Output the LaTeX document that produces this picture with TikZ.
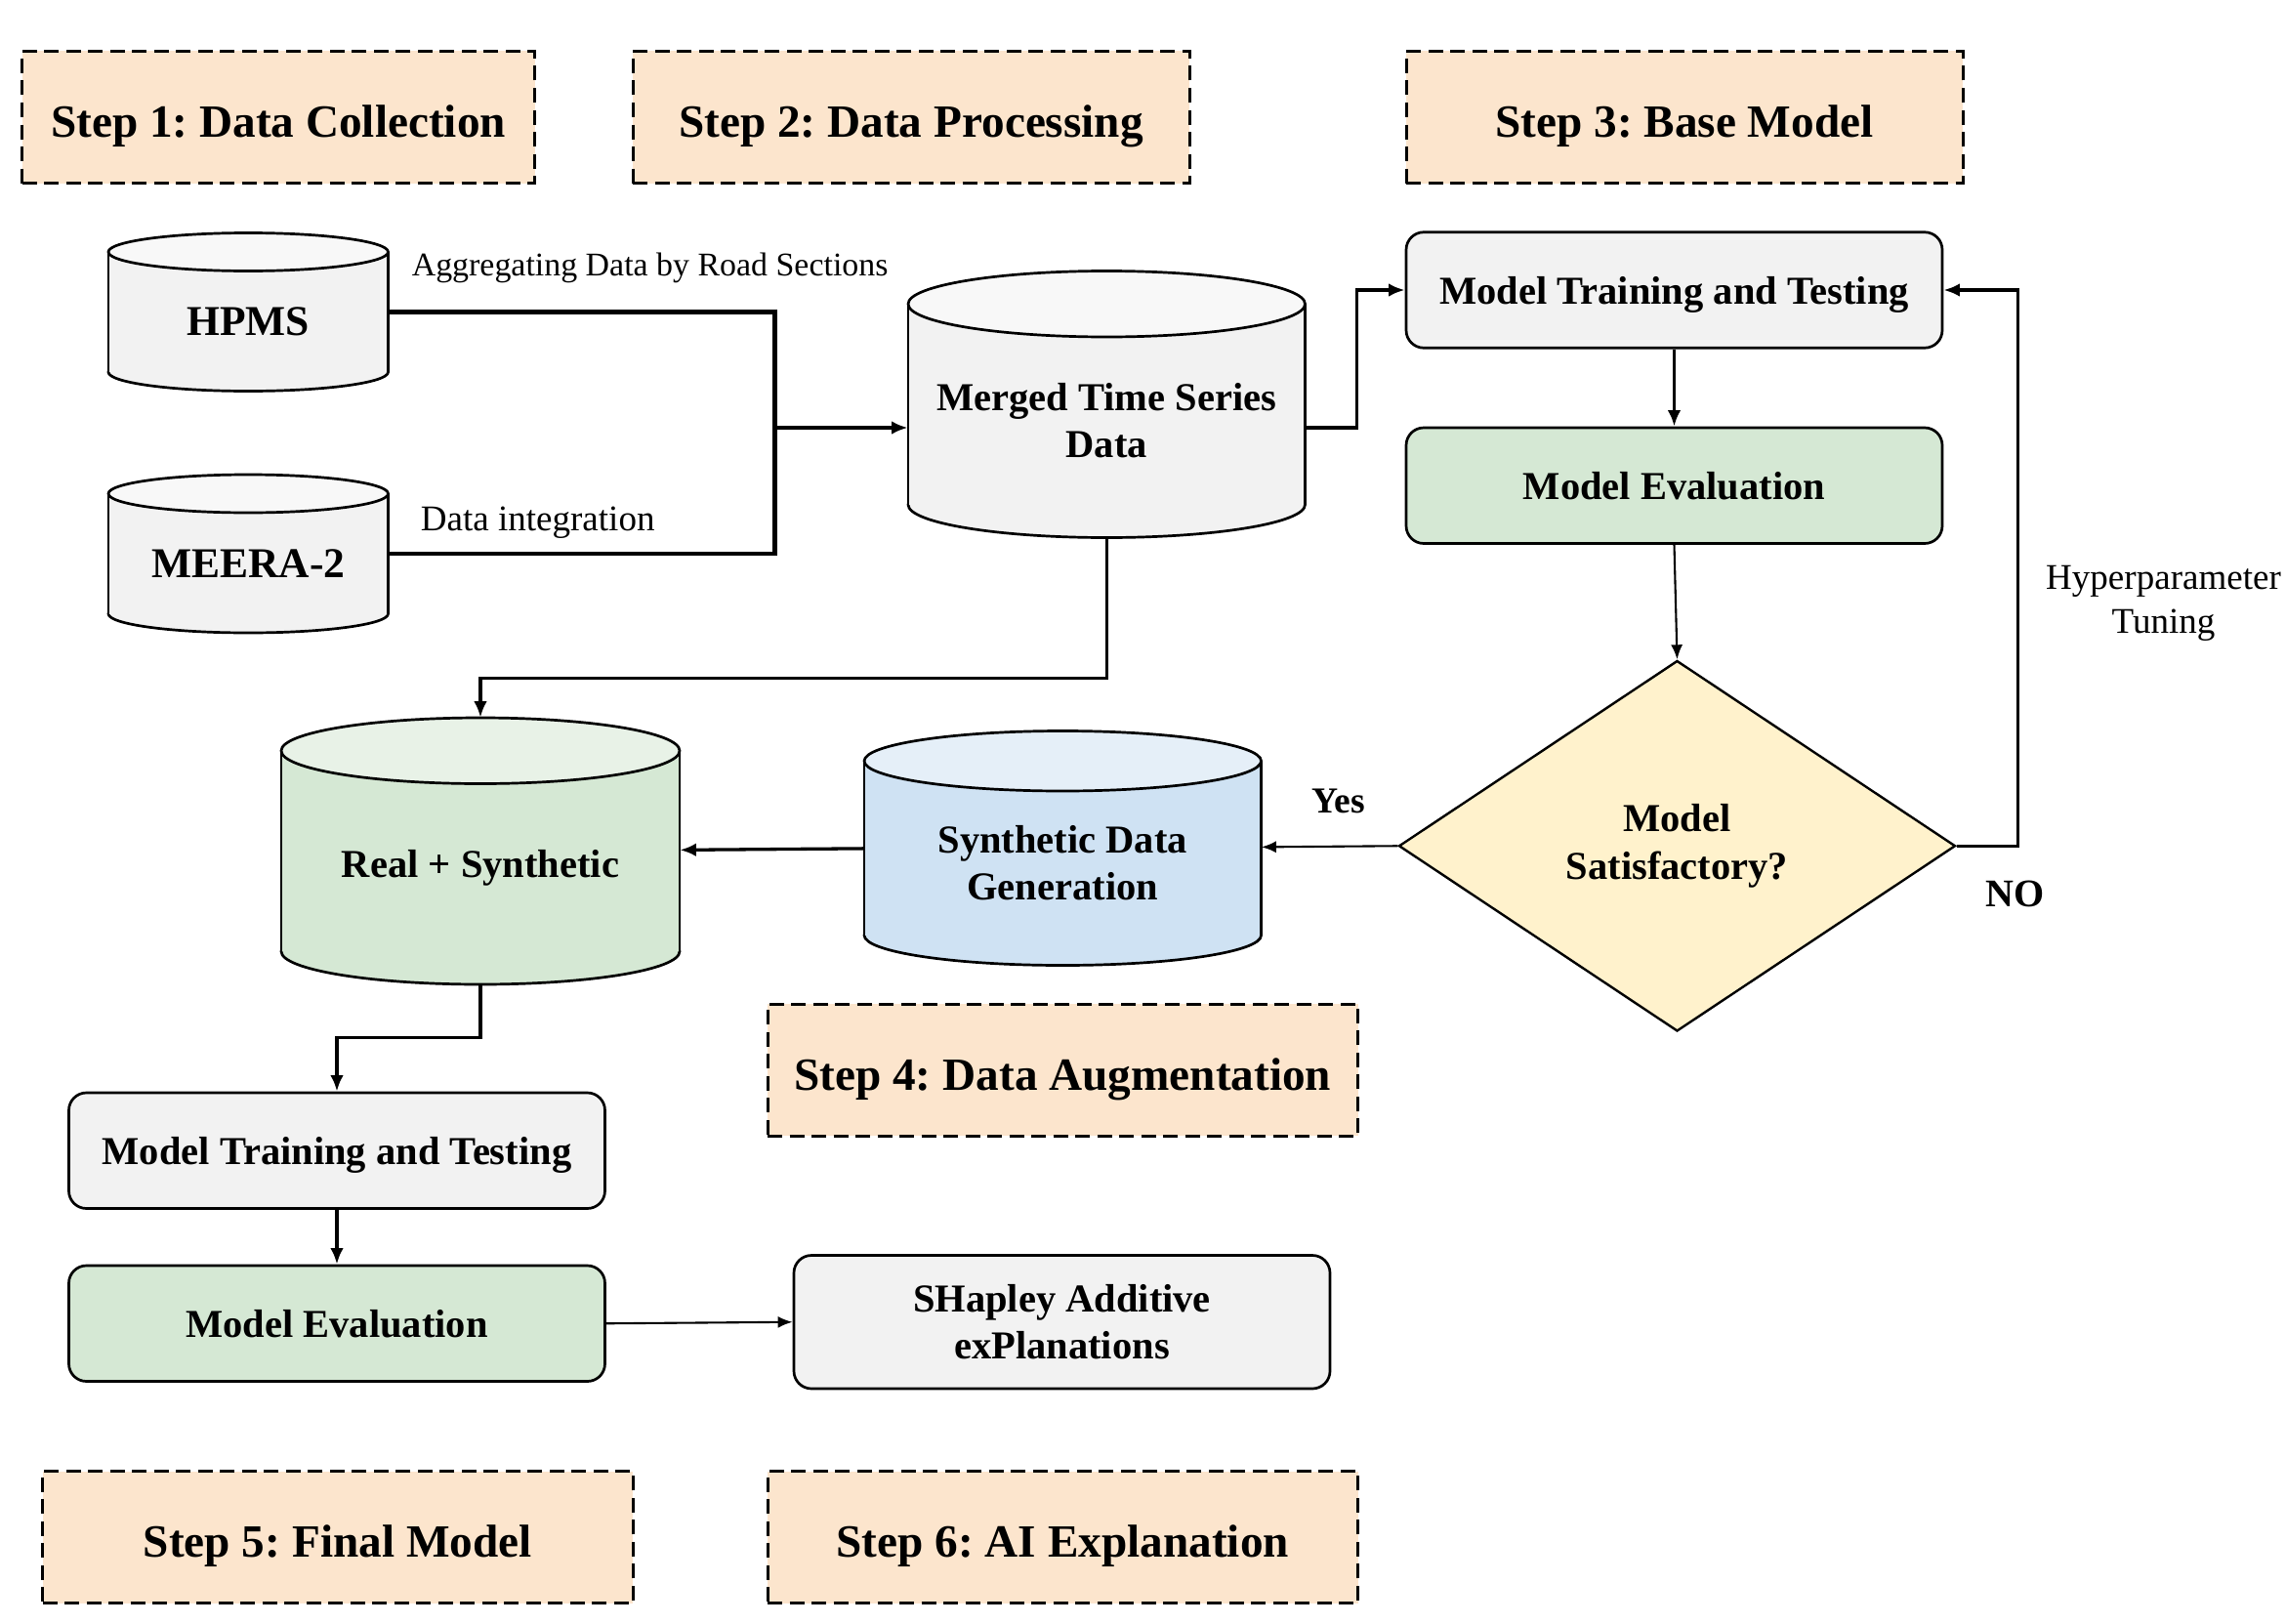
\documentclass[tikz,border=0pt]{standalone}
\usepackage{fontspec}
\setmainfont{Liberation Serif}
\frenchspacing
\usetikzlibrary{shapes.geometric,arrows.meta}

\definecolor{peach}{HTML}{FCE5CD}
\definecolor{cylgrey}{HTML}{F2F2F2}
\definecolor{evalgreen}{HTML}{D5E8D4}
\definecolor{synblue}{HTML}{CFE2F3}
\definecolor{decyellow}{HTML}{FFF2CC}

\begin{document}
\begin{tikzpicture}[x=1pt,y=-1pt,
  stepbox/.style={draw, dash pattern=on 10pt off 5pt, line width=2pt, fill=peach,
    minimum height=90pt, inner sep=0pt, text height=27pt, text depth=0pt,
    font=\fontsize{31.5}{36}\selectfont\bfseries},
  dbtext/.style={inner sep=0pt, align=center, font=\fontsize{27}{32}\selectfont\bfseries},
  box/.style={draw, rounded corners=12pt, line width=1.8pt, minimum width=366pt,
    minimum height=79pt, inner sep=0pt, align=center, font=\fontsize{27}{32}\selectfont\bfseries},
  flow/.style={line width=2.2pt, -{Latex[length=11pt,width=9pt]}},
  thin flow/.style={line width=1.4pt, -{Latex[length=10pt,width=8pt]}},
  note/.style={inner sep=0pt, font=\fontsize{24.7}{30}\selectfont}]

\useasboundingbox (0,0) rectangle (1560,1108);

% step headers
\node[stepbox, minimum width=350pt] (step1) at (190,80) {Step 1: Data Collection};
\node[stepbox, minimum width=380pt] (step2) at (622,80) {Step 2: Data Processing};
\node[stepbox, minimum width=380pt] (step3) at (1150,80) {Step 3: Base Model};
\node[stepbox, minimum width=403pt] (step4) at (725.5,730.5) {Step 4: Data Augmentation};
\node[stepbox, minimum width=403pt] (step5) at (230.5,1049.5) {Step 5: Final Model};
\node[stepbox, minimum width=403pt] (step6) at (725.5,1049.5) {Step 6: AI Explanation};

% data stores: centre x / top / bottom / half width / cap radius / colour
\foreach \cx/\t/\b/\w/\r/\c in {169.5/159/267/95.5/13/cylgrey, 169.5/324/432/95.5/13/cylgrey,
    755.5/185/367/135.5/22.5/cylgrey, 328/490/672/136/22.5/evalgreen, 725.5/499/659/135.5/20.5/synblue} {
  \filldraw[line width=1.8pt, fill=\c] (\cx,{\b-\r}) ellipse [x radius=\w, y radius=\r];
  \fill[\c] ({\cx-\w},{\t+\r}) rectangle ({\cx+\w},{\b-\r});
  \draw[line width=1.8pt] ({\cx-\w},{\t+\r}) -- ({\cx-\w},{\b-\r}) ({\cx+\w},{\t+\r}) -- ({\cx+\w},{\b-\r});
  \filldraw[line width=1.8pt, fill=\c!55!white] (\cx,{\t+\r}) ellipse [x radius=\w, y radius=\r];
}
\node[dbtext, minimum width=191pt, minimum height=95pt, font=\fontsize{29}{34}\selectfont\bfseries] (hpms) at (169.5,219.5) {HPMS};
\node[dbtext, minimum width=191pt, minimum height=95pt, font=\fontsize{29}{34}\selectfont\bfseries] (meera) at (169.5,384.5) {MEERA-2};
\node[dbtext, minimum width=271pt, minimum height=159.5pt] (merged) at (755.5,287.25) {Merged Time Series\\Data};
\node[dbtext, minimum width=272pt, minimum height=159.5pt] (real) at (328,592.25) {Real + Synthetic};
\node[dbtext, minimum width=271pt, minimum height=139.5pt] (syn) at (725.5,589.25) {Synthetic Data\\Generation};

% model boxes
\node[box, fill=cylgrey, text depth=0pt] (train1) at (1143,198) {Model Training and Testing};
\node[box, fill=evalgreen] (eval1) at (1143,331.5) {Model Evaluation};
\node[diamond, draw, line width=1.6pt, fill=decyellow, minimum width=380pt, minimum height=253pt,
  inner sep=0pt, align=center, font=\fontsize{27}{33}\selectfont\bfseries] (check) at (1145,577.5) {Model\\Satisfactory?};
\node[box, fill=cylgrey, text depth=0pt] (train2) at (230,785.5) {Model Training and Testing};
\node[box, fill=evalgreen] (eval2) at (230,903.5) {Model Evaluation};
\node[box, fill=cylgrey, minimum height=91pt] (shap) at (725,902.5) {SHapley Additive\\exPlanations};

% labels
\node[note, anchor=west, font=\fontsize{22.6}{27}\selectfont] (agglbl) at (281,183) {Aggregating Data by Road Sections};
\node[note, anchor=west] (intlbl) at (287,357) {Data integration};
\node[note, align=center] (tunelbl) at (1477,412) {Hyperparameter\\Tuning};
\node[note, font=\fontsize{25}{30}\selectfont\bfseries] (yeslbl) at (914,547) {Yes};
\node[note, font=\fontsize{26.7}{30}\selectfont\bfseries] (nolbl) at (1376,610) {NO};

% connectors
\coordinate (join) at (529,292);
\draw[line width=3pt] ([yshift=6.5pt]hpms.east) -| (join);
\draw[line width=3pt] ([yshift=6.5pt]meera.east) -| (join);
\draw[flow, line width=3pt] (join) -- (join -| merged.west);
\draw[flow] (join -| merged.east) -- ++(35,0) |- (train1.west);
\draw[flow] (train1.south) -- (eval1.north);
\draw[thin flow] (eval1.south) -- (check.north);
\draw[flow] (check.east) -- ++(42,0) |- (train1.east);
\draw[thin flow] (check.west) -- ([yshift=11pt]syn.east);
\draw[flow] ([yshift=10pt]syn.west) -- ([yshift=12pt]real.east);
\draw[flow] (merged.south) -- ++(0,96) -| ([yshift=22.5pt]real.north);
\draw[flow] (real.south) -- ++(0,36) -| (train2.north);
\draw[flow] (train2.south) -- (eval2.north);
\draw[thin flow] (eval2.east) -- (shap.west);
\end{tikzpicture}
\end{document}
